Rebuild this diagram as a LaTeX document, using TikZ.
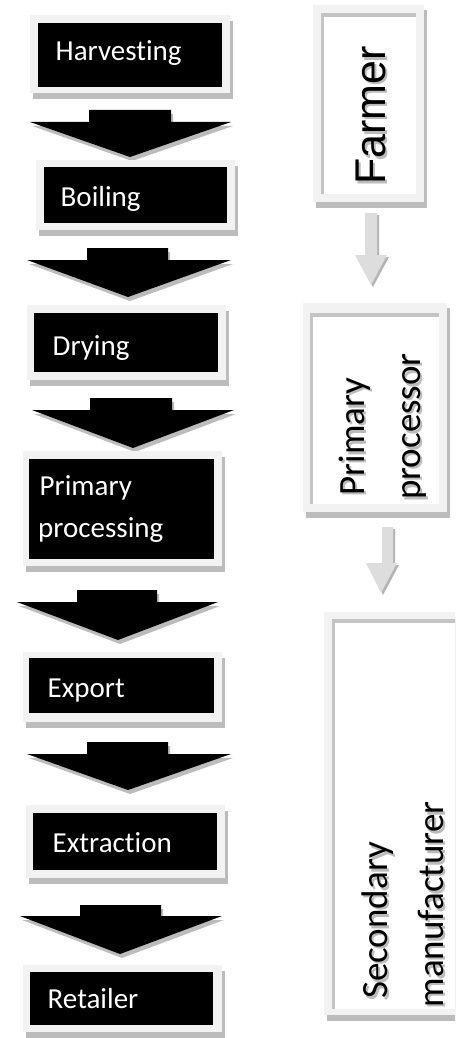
\documentclass[tikz,border=0pt]{standalone}
\usepackage{fontspec}
\setmainfont[Ligatures=NoCommon]{Carlito}
\newfontfamily\arialf{Liberation Sans}
\definecolor{frameg}{HTML}{F2F2F2}
\definecolor{shadg}{HTML}{BCBCBC}
\definecolor{bordg}{HTML}{C4C4C4}
\definecolor{arrg}{HTML}{DDDDDD}
\definecolor{arrsh}{HTML}{B4B4B4}
\tikzset{
  lbl/.style={text=white, font=\fontsize{29}{35}\selectfont, inner sep=0pt, anchor=base west},
  rlbl/.style={text=black, font=\fontsize{37}{45}\selectfont, inner sep=0pt, anchor=base west, rotate=90},
  flbl/.style={text=black, font=\arialf\fontsize{43}{50}\selectfont, inner sep=0pt, anchor=base west, rotate=90},
  tshad/.style={text=shadg},
}
% left box: frame l t r b ; black l t r b
\newcommand\lbox[8]{%
  \fill[shadg] (#1+3,#2+6) rectangle (#3+3,#4+6);
  \fill[frameg] (#1,#2) rectangle (#3,#4);
  \fill[black] (#5,#6) rectangle (#7,#8);}
% black block arrow: bx1 bx2 top wy lx rx tipx tipy
\newcommand\blk[8]{%
  \fill[shadg] (#1+2,#3+4) -- (#2+2,#3+4) -- (#2+2,#4+4) -- (#6+2,#4+4) -- (#7+2,#8+4) -- (#5+2,#4+4) -- (#1+2,#4+4) -- cycle;
  \fill[black] (#1,#3) -- (#2,#3) -- (#2,#4) -- (#6,#4) -- (#7,#8) -- (#5,#4) -- (#1,#4) -- cycle;}
% right box: frame l t r b ; inner white l t r b
\newcommand\rbox[8]{%
  \fill[shadg] (#1+3,#2+5) rectangle (#3+3,#4+6);
  \fill[frameg] (#1,#2) rectangle (#3,#4);
  \fill[bordg] (#5,#6) rectangle (#7,#8);
  \fill[white] (#5+3,#6+4) rectangle (#7,#8);}
% grey block arrow: sx1 sx2 top hy hl hr tipx tipy
\newcommand\garr[8]{%
  \fill[arrsh] (#1+2,#3+2) -- (#2+2,#3+2) -- (#2+2,#4+2) -- (#6+2,#4+2) -- (#7+2,#8+2) -- (#5+2,#4+2) -- (#1+2,#4+2) -- cycle;
  \fill[arrg] (#1,#3) -- (#2,#3) -- (#2,#4) -- (#6,#4) -- (#7,#8) -- (#5,#4) -- (#1,#4) -- cycle;}
\begin{document}
\begin{tikzpicture}[x=1pt,y=-1pt]
\clip (0,0) rectangle (455,1038);
\fill[white] (0,0) rectangle (455,1038);
% ---- left column ----
\lbox{30}{15}{230}{93}{38}{23}{222}{87}
\node[lbl] (harv) at (55.5,61) {Harvesting};
\blk{89}{171}{110}{122}{30}{231}{130}{157}
\lbox{36}{160}{235}{230}{44}{167}{227}{223}
\node[lbl] (boil) at (60.5,206) {Boiling};
\blk{87}{168}{248}{260}{27}{231}{128}{297}
\lbox{27}{305}{226}{380}{34}{313}{218}{372}
\node[lbl] (dry) at (52.5,355) {Drying};
\blk{90}{172}{398}{410}{32}{234}{133}{448}
\lbox{23}{451}{222}{566}{29}{459}{214}{559}
\node[lbl] (pp1) at (39.5,495) {Primary};
\node[lbl] (pp2) at (38,537) {processing};
\blk{77}{157}{590}{602}{17}{218}{118}{640}
\lbox{23}{652}{222}{722}{29}{658}{214}{713}
\node[lbl] (exp) at (47.5,697) {Export};
\blk{87}{168}{742}{754}{27}{231}{128}{790}
\lbox{26}{805}{225}{878}{33}{813}{217}{870}
\node[lbl] (ext) at (52.5,852) {Extraction};
\blk{80}{161}{905}{916}{20}{222}{120}{954}
\lbox{23}{965}{222}{1032}{30}{972}{213}{1025}
\node[lbl] (ret) at (47.5,1008) {Retailer};
% ---- right column ----
\rbox{313}{5}{424}{202}{321}{13}{416}{194}
\node[flbl,tshad] (farmersh) at (387.5,187.5) {Farmer};
\node[flbl] (farmer) at (385,185) {Farmer};
\garr{365}{377}{213}{255}{355}{387}{371}{285}
\rbox{303}{303}{447}{512}{310}{313}{439}{504}
\node[rlbl,tshad] (prsh1) at (366.5,498) {Primary};
\node[rlbl,tshad] (prsh2) at (422.5,502.5) {processor};
\node[rlbl] (pr1) at (364,495.5) {Primary};
\node[rlbl] (pr2) at (420,500) {processor};
\garr{382}{393}{527}{563}{366}{397}{381}{593}
\rbox{324}{612}{475}{1015}{332}{619}{475}{1009}
\node[rlbl,tshad] (secsh1) at (389.5,1001.5) {Secondary};
\node[rlbl,tshad] (secsh2) at (445.5,1010) {manufacturer};
\node[rlbl] (sec1) at (387,999) {Secondary};
\node[rlbl] (sec2) at (443,1007.5) {manufacturer};
\end{tikzpicture}
\end{document}
